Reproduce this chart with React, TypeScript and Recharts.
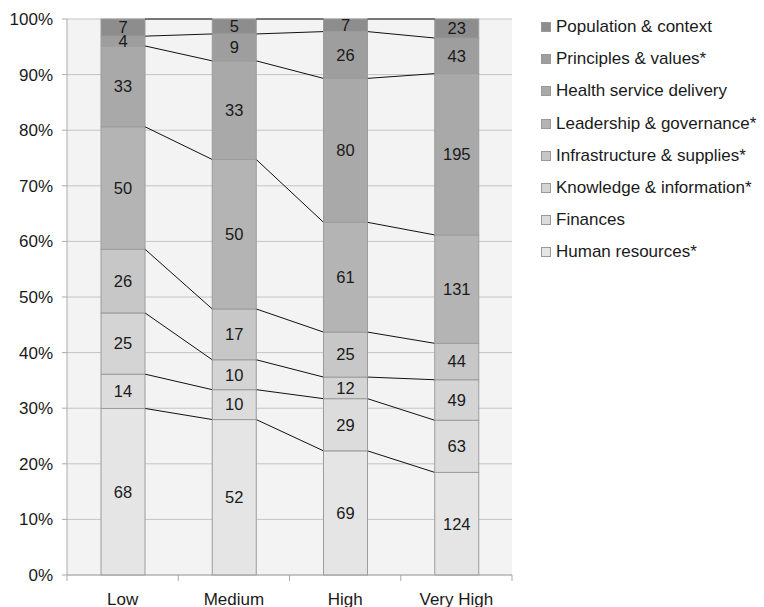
import { Bar, BarChart, CartesianGrid, LabelList, XAxis, YAxis } from "recharts";

const CATEGORIES = ["Low", "Medium", "High", "Very High"];

// bottom of the stack first
const HUMAN_RESOURCES = [68, 52, 69, 124];
const FINANCES = [14, 10, 29, 63];
const KNOWLEDGE = [25, 10, 12, 49];
const INFRASTRUCTURE = [26, 17, 25, 44];
const LEADERSHIP = [50, 50, 61, 131];
const HEALTH_SERVICE = [33, 33, 80, 195];
const PRINCIPLES = [4, 9, 26, 43];
const POPULATION = [7, 5, 7, 23];

const Y_TICKS = [0, 0.1, 0.2, 0.3, 0.4, 0.5, 0.6, 0.7, 0.8, 0.9, 1];

const SERIES = [
  { key: "hr", name: "Human resources*", values: HUMAN_RESOURCES, color: "#e5e5e5" },
  { key: "fin", name: "Finances", values: FINANCES, color: "#dcdcdc" },
  { key: "know", name: "Knowledge & information*", values: KNOWLEDGE, color: "#d3d4d3" },
  { key: "infra", name: "Infrastructure & supplies*", values: INFRASTRUCTURE, color: "#c6c7c6" },
  { key: "lead", name: "Leadership & governance*", values: LEADERSHIP, color: "#b4b4b4" },
  { key: "health", name: "Health service delivery", values: HEALTH_SERVICE, color: "#a9a9a9" },
  { key: "princ", name: "Principles & values*", values: PRINCIPLES, color: "#9d9e9d" },
  { key: "pop", name: "Population & context", values: POPULATION, color: "#8d8d8d" },
];

const data = CATEGORIES.map((category, i) => {
  const row: Record<string, string | number> = { category };
  SERIES.forEach((s) => {
    row[s.key] = s.values[i];
  });
  return row;
});

const CHART_W = 764;
const CHART_H = 607;
const MARGIN = { top: 19, right: 252, left: 0, bottom: 0 };
const Y_AXIS_W = 67;
const X_AXIS_H = 32;
const PLOT_W = CHART_W - MARGIN.left - MARGIN.right - Y_AXIS_W;
const PLOT_BOTTOM = CHART_H - MARGIN.bottom - X_AXIS_H;
const BAND = PLOT_W / CATEGORIES.length;

const FONT = '"Liberation Sans", Arial, Helvetica, sans-serif';
const TEXT = "#1a1a1a";
const AXIS = "#ababab";

// top edge of each segment, so the next bar can draw the series line back to it
const lastTop: Record<string, { x: number; y: number }> = {};

function segmentShape(key: string, color: string) {
  return (props: any) => {
    const { x, y, width, height, index } = props;
    const prev = index > 0 ? lastTop[`${key}:${index - 1}`] : undefined;
    lastTop[`${key}:${index}`] = { x: x + width, y };
    return (
      <g>
        <rect x={x} y={y} width={width} height={height} fill={color} stroke="#9c9c9c" strokeWidth={1} />
        {prev && <line x1={prev.x} y1={prev.y} x2={x} y2={y} stroke="#111" strokeWidth={1} />}
      </g>
    );
  };
}

function CategoryTick(props: any) {
  const { x, payload, index } = props;
  const half = BAND / 2;
  return (
    <g>
      <line x1={x - half} x2={x - half} y1={PLOT_BOTTOM} y2={PLOT_BOTTOM + 6} stroke={AXIS} />
      {index === CATEGORIES.length - 1 && (
        <line x1={x + half} x2={x + half} y1={PLOT_BOTTOM} y2={PLOT_BOTTOM + 6} stroke={AXIS} />
      )}
      <text x={x} y={PLOT_BOTTOM + 29.5} textAnchor="middle" fill={TEXT} fontSize={17}>
        {payload.value}
      </text>
    </g>
  );
}

export default function App() {
  return (
    <div style={{ position: "absolute", left: 0, top: 0, width: CHART_W, height: CHART_H, background: "#fff", fontFamily: FONT }}>
      <BarChart width={CHART_W} height={CHART_H} data={data} stackOffset="expand" margin={MARGIN} barSize={44}>
        <CartesianGrid vertical={false} stroke="#c4c4c4" fill="#f3f3f3" />
        <XAxis
          dataKey="category"
          height={X_AXIS_H}
          interval={0}
          axisLine={{ stroke: AXIS }}
          tickLine={false}
          tick={(p: any) => <CategoryTick {...p} />}
        />
        <YAxis
          type="number"
          domain={[0, 1]}
          ticks={Y_TICKS}
          width={Y_AXIS_W}
          tickSize={5}
          tickMargin={9}
          axisLine={{ stroke: AXIS }}
          tickLine={{ stroke: AXIS }}
          tick={{ fill: TEXT, fontSize: 17 }}
          tickFormatter={(v: number) => `${Math.round(v * 100)}%`}
        />
        {SERIES.map((s) => (
          <Bar
            key={s.key}
            dataKey={s.key}
            name={s.name}
            stackId="a"
            fill={s.color}
            isAnimationActive={false}
            shape={segmentShape(s.key, s.color)}
          >
            <LabelList dataKey={s.key} position="center" fill={TEXT} fontSize={16.5} />
          </Bar>
        ))}
      </BarChart>

      <div style={{ position: "absolute", left: 541, top: 11, color: TEXT, fontSize: 17 }}>
        {[...SERIES].reverse().map((s) => (
          <div key={s.key} style={{ display: "flex", alignItems: "center", height: 32.2, whiteSpace: "nowrap" }}>
            <span
              style={{
                display: "inline-block",
                width: 10,
                height: 10,
                boxSizing: "border-box",
                background: s.color,
                border: "1px solid #999",
                marginRight: 5,
              }}
            />
            {s.name}
          </div>
        ))}
      </div>
    </div>
  );
}
